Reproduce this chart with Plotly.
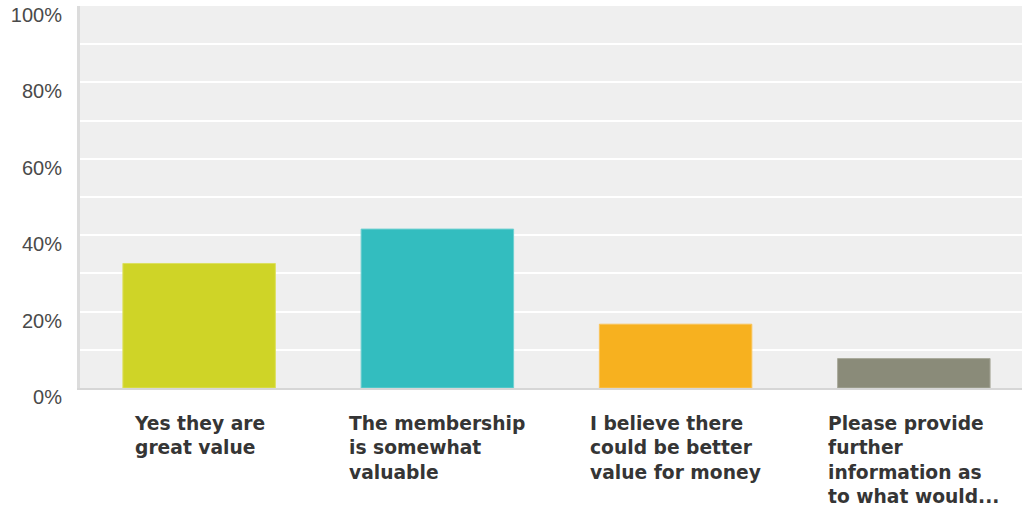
import plotly.graph_objects as go

# Survey answers and share of respondents (%)
categories = [
    "Yes they are great value",
    "The membership is somewhat valuable",
    "I believe there could be better value for money",
    "Please provide further information as to what would...",
]
label_lines = [
    "Yes they are<br>great value",
    "The membership<br>is somewhat<br>valuable",
    "I believe there<br>could be better<br>value for money",
    "Please provide<br>further<br>information as<br>to what would...",
]
percentages = [32.6, 41.6, 16.7, 7.7]

bar_colors = ["#cfd427", "#33bdbf", "#f7b11f", "#8a8b79"]
bar_edges = ["#dde05f", "#6fd0d1", "#fac45a", "#a9aa9c"]

y_tick_values = [0, 10, 20, 30, 40, 50, 60, 70, 80, 90, 100]
y_tick_labels = ["0%", "", "20%", "", "40%", "", "60%", "", "80%", "", "100%"]

fig = go.Figure()
fig.add_trace(
    go.Bar(
        x=categories,
        y=percentages,
        marker=dict(color=bar_colors, line=dict(color=bar_edges, width=1)),
        hoverinfo="skip",
    )
)

# Category labels: block centred under each bar, lines left-aligned
for cat, text in zip(categories, label_lines):
    fig.add_annotation(
        x=cat,
        y=0,
        xref="x",
        yref="paper",
        text=text,
        showarrow=False,
        xanchor="center",
        yanchor="top",
        align="left",
        yshift=-23,
        font=dict(family="DejaVu Sans, Verdana, sans-serif", size=18.7, color="#353535", weight="bold"),
    )

fig.update_layout(
    width=1022,
    height=509,
    margin=dict(l=80, r=0, t=6, b=121),
    paper_bgcolor="white",
    plot_bgcolor="#efefef",
    bargap=0.36,
    showlegend=False,
    font=dict(family="Liberation Sans, Arial, sans-serif"),
)

fig.update_xaxes(
    type="category",
    range=[-0.5, 3.454],
    showticklabels=False,
    showgrid=False,
    zeroline=False,
    showline=True,
    linecolor="#d6d6d6",
    linewidth=2,
    ticks="",
)

fig.update_yaxes(
    range=[0, 100],
    tickvals=y_tick_values,
    ticktext=y_tick_labels,
    showgrid=True,
    gridcolor="#ffffff",
    gridwidth=2,
    zeroline=False,
    showline=True,
    linecolor="#dcdcdc",
    linewidth=3,
    ticks="",
    ticklabelstandoff=11,
    ticklabelshift=9,
    tickfont=dict(family="Liberation Sans, Arial, sans-serif", size=20, color="#4a4a4a"),
)

fig.write_html("out.html")
